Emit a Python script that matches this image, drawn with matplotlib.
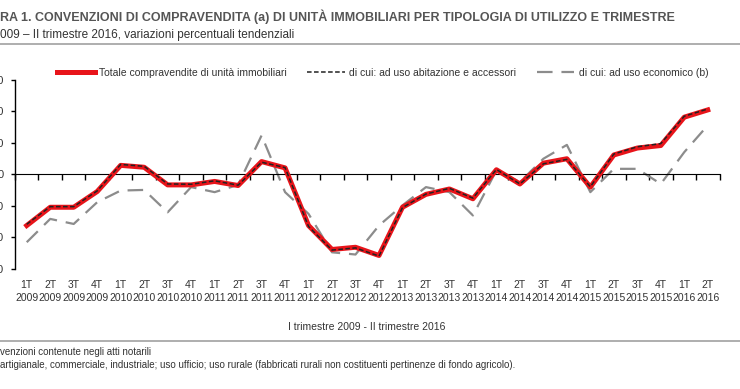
import matplotlib
matplotlib.use('Agg')
import matplotlib.pyplot as plt
import matplotlib.transforms as mtransforms

plt.rcParams['font.family'] = ['Liberation Sans', 'DejaVu Sans']

# dati (variazioni % tendenziali)
trimestri = ['1T', '2T', '3T', '4T'] * 7 + ['1T', '2T']
anni = [str(a) for a in range(2009, 2016) for _ in range(4)] + ['2016', '2016']

totale = [-16.2, -10.4, -10.4, -5.4, 2.9, 2.3, -3.3, -3.3, -2.2, -3.5,
          4.1, 2.1, -16.2, -23.8, -23.1, -25.7, -10.4, -6.3, -4.6, -7.7,
          1.5, -3.0, 3.6, 5.0, -4.0, 6.2, 8.4, 9.2, 18.2, 20.5]
abitazione = [-15.8, -10.2, -10.2, -5.2, 3.2, 2.6, -3.0, -3.1, -2.0, -3.4,
              3.9, 2.2, -16.5, -24.0, -23.3, -25.9, -10.5, -6.2, -4.4, -7.5,
              1.6, -3.0, 3.4, 4.8, -3.9, 6.5, 8.8, 9.8, 18.5, 20.8]
economico = [-21.5, -14.1, -15.7, -8.8, -5.1, -4.9, -12.0, -4.0, -5.6, -3.3,
             12.4, -5.6, -12.5, -24.7, -25.4, -16.2, -9.8, -4.0, -5.6, -13.0,
             1.3, -2.4, 5.0, 9.4, -5.6, 1.8, 1.8, -3.0, 7.1, 15.6]

yticks = [-30, -20, -10, 0, 10, 20, 30]

W, H = 740, 389
fig = plt.figure(figsize=(W / 100, H / 100), dpi=100)
ax = fig.add_axes([15 / W, 1 - 269 / H, (719.5 - 15) / W, (269 - 80) / H])

x = list(range(len(totale)))
ax.plot(x, totale, color='#e8141a', lw=3.6, solid_joinstyle='round',
        label='Totale compravendite di unità immobiliari', zorder=3)
ax.plot(x, abitazione, color='#222222', lw=1.1, dashes=(3, 1.6),
        label='di cui: ad uso abitazione e accessori', zorder=4)
ax.plot(x, economico, color='#8c8c8c', lw=1.6, dashes=(7, 4),
        label='di cui: ad uso economico (b)', zorder=2)

ax.set_xlim(-0.5, len(totale) - 0.5)
ax.set_ylim(-30, 30)
ax.set_yticks(yticks)
ax.set_yticklabels([str(v) for v in yticks], fontsize=8, color='#333333')
ax.tick_params(axis='y', direction='out', length=3, width=1, pad=5)

ax.spines['top'].set_visible(False)
ax.spines['right'].set_visible(False)
ax.spines['bottom'].set_position(('data', 0))
ax.spines['left'].set_linewidth(1)
ax.set_xticks([i - 0.5 for i in range(len(totale) + 1)])
ax.set_xticklabels([])
ax.tick_params(axis='x', direction='out', length=4, width=1)

trans = mtransforms.blended_transform_factory(ax.transData, fig.transFigure)
for i in x:
    ax.text(i, 1 - 285 / H, trimestri[i], transform=trans, ha='center',
            va='center', fontsize=7.5, color='#333333')
    ax.text(i, 1 - 298 / H, anni[i], transform=trans, ha='center',
            va='center', fontsize=7.5, color='#333333')

leg = ax.legend(ncol=3, frameon=False, loc='center left',
                bbox_to_anchor=(53 / W, 1 - 73 / H), bbox_transform=fig.transFigure,
                fontsize=7.5, handlelength=3.6, handletextpad=0.4,
                columnspacing=2.0, borderaxespad=0)
for t in leg.get_texts():
    t.set_color('#333333')

# titolo, sottotitolo e note
fig.text(0, 1 - 17 / H, 'RA 1. CONVENZIONI DI COMPRAVENDITA (a) DI UNITÀ IMMOBILIARI PER TIPOLOGIA DI UTILIZZO E TRIMESTRE',
         fontsize=9, fontweight='bold', color='#555555', va='center', ha='left')
fig.text(0, 1 - 35 / H, '009 – II trimestre 2016, variazioni percentuali tendenziali',
         fontsize=8.5, color='#333333', va='center', ha='left')
fig.add_artist(plt.Line2D([0, 1], [1 - 44 / H, 1 - 44 / H], color='#a8a8a8', lw=1.3))
fig.text(367 / W, 1 - 327 / H, 'I trimestre 2009 - II trimestre 2016',
         fontsize=7.5, color='#333333', va='center', ha='center')
fig.add_artist(plt.Line2D([0, 1], [1 - 341 / H, 1 - 341 / H], color='#a8a8a8', lw=1.3))
fig.text(0, 1 - 352 / H, 'venzioni contenute negli atti notarili',
         fontsize=7, color='#333333', va='center', ha='left')
fig.text(0, 1 - 365 / H, 'artigianale, commerciale, industriale; uso ufficio; uso rurale (fabbricati rurali non costituenti pertinenze di fondo agricolo).',
         fontsize=7, color='#333333', va='center', ha='left')

fig.savefig('out.png', dpi=100)
